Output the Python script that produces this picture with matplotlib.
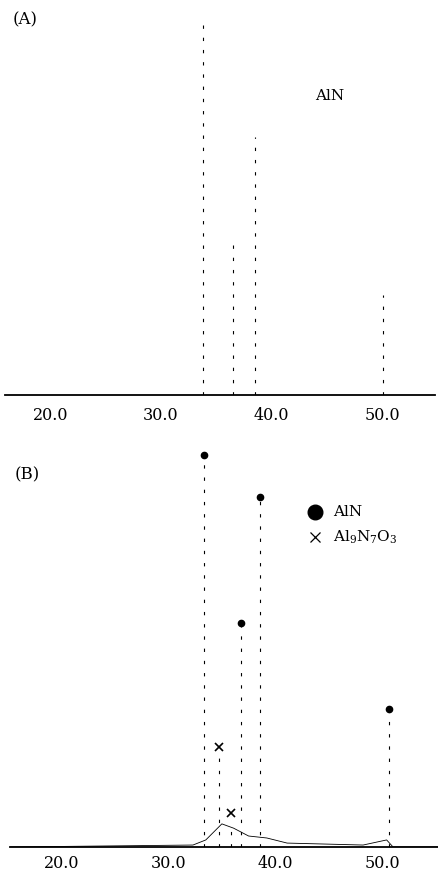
import numpy as np
import matplotlib
matplotlib.use("Agg")
import matplotlib.pyplot as plt

plt.rcParams["font.family"] = ["DejaVu Serif"]
plt.rcParams["mathtext.fontset"] = "dejavuserif"

W, H = 439, 876

# 2θ tick positions / labels
ticks = [20, 30, 40, 50]
tick_labels = ["20.0", "30.0", "40.0", "50.0"]

# (A) AlN reference peaks: 2θ and relative intensity
a_pos = [33.8, 36.5, 38.5, 50.1]
a_int = [100.0, 42.2, 69.4, 26.9]

# (B) AlN peaks
b_aln_pos = [33.3, 36.8, 38.6, 50.65]
b_aln_int = [100.0, 57.1, 89.3, 35.2]
# (B) Al9N7O3 peaks
b_alon_pos = [34.7, 35.9]
b_alon_int = [23.0, 5.6]
b_alon_mark = [25.5, 8.7]
# (B) low baseline trace
b_base_x = [15.2, 32.3, 33.5, 35.0, 36.1, 37.5, 39.2, 41.1, 48.2, 50.4, 51.0, 55.2]
b_base_y = [0.0, 0.5, 1.8, 5.9, 4.8, 2.8, 2.3, 1.0, 0.5, 1.8, 0.0, 0.0]


def box(left, top, right, bottom):
    return [left / W, 1 - bottom / H, (right - left) / W, (bottom - top) / H]


def style(ax, xlim, ymax, pad):
    ax.set_xlim(*xlim)
    ax.set_ylim(0, ymax)
    for s in ["top", "right", "left"]:
        ax.spines[s].set_visible(False)
    ax.spines["bottom"].set_linewidth(1.3)
    ax.set_yticks([])
    ax.set_xticks(ticks)
    ax.set_xticklabels(tick_labels)
    ax.tick_params(axis="x", length=0, pad=pad, labelsize=11.5)


dash = (0, (3, 8))

fig = plt.figure(figsize=(W / 100, H / 100), dpi=100)

# ---- (A)
ax_a = fig.add_axes(box(5, 5, 435, 395))
style(ax_a, (15.9, 54.8), 104.8, 8.6)
ax_a.vlines(a_pos, 0, a_int, colors="black", linewidth=0.8, linestyles=dash)
fig.text(330 / W, 1 - 96 / H, "AlN", ha="center", va="center", fontsize=11)
fig.text(25 / W, 1 - 20 / H, "(A)", ha="center", va="center", fontsize=12)

# ---- (B)
ax_b = fig.add_axes(box(10, 440, 438, 847))
style(ax_b, (15.2, 55.2), 103.8, 5.8)
ax_b.plot(b_base_x, b_base_y, color="black", linewidth=0.6)
ax_b.vlines(b_aln_pos, 0, b_aln_int, colors="black", linewidth=0.8, linestyles=dash)
ax_b.vlines(b_alon_pos, 0, b_alon_int, colors="black", linewidth=0.8, linestyles=dash)
ax_b.plot(b_aln_pos, b_aln_int, "o", color="black", markersize=4.5, clip_on=False)
ax_b.plot(b_alon_pos, b_alon_mark, "x", color="black", markersize=6,
          markeredgewidth=1.2)
fig.text(27 / W, 1 - 475 / H, "(B)", ha="center", va="center", fontsize=12)

# legend
ax_b.plot([0.713], [0.823], "o", color="black", markersize=10.5,
          transform=ax_b.transAxes, clip_on=False)
ax_b.plot([0.713], [0.762], "x", color="black", markersize=7,
          markeredgewidth=0.9, transform=ax_b.transAxes, clip_on=False)
ax_b.text(0.755, 0.823, "AlN", transform=ax_b.transAxes, ha="left",
          va="center", fontsize=11)
ax_b.text(0.755, 0.762, r"Al$_9$N$_7$O$_3$", transform=ax_b.transAxes,
          ha="left", va="center", fontsize=11)

fig.savefig("out.png", dpi=100)
